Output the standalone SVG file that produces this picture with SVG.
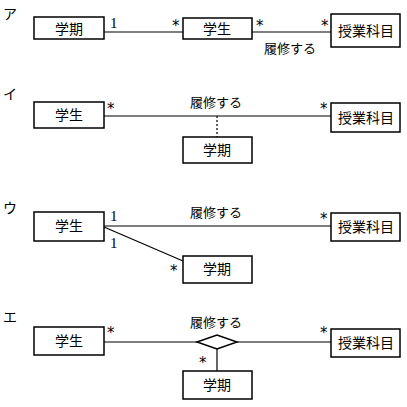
<svg xmlns="http://www.w3.org/2000/svg" width="407" height="407" viewBox="0 0 407 407">
<style>
.box{fill:#fff;stroke:#000;stroke-width:1.5}
.ln{stroke:#000;stroke-width:1.2;fill:none}
.dot{stroke:#000;stroke-width:1.2;stroke-dasharray:2,2;fill:none}
.t{font-family:"Noto Sans CJK JP","Noto Sans",sans-serif;font-size:14px;fill:#000;text-anchor:middle}
.lb{font-family:"Noto Sans CJK JP","Noto Sans",sans-serif;font-size:13px;fill:#000}
.m{font-family:"Liberation Serif",serif;font-size:15px;fill:#000}
.s{font-family:"DejaVu Sans",sans-serif;font-size:15px;fill:#000}
.k{font-family:"Noto Sans CJK JP",sans-serif;font-size:14px;fill:#000}
</style>
<rect width="407" height="407" fill="#fff"/>
<text class="k" x="3" y="19">ア</text>
<text class="k" x="3" y="99">イ</text>
<text class="k" x="3" y="213">ウ</text>
<text class="k" x="3" y="322">エ</text>

<g id="connectors">
  <line class="ln" x1="104" y1="32" x2="183" y2="32"/>
  <line class="ln" x1="252" y1="32" x2="331" y2="32"/>
  <line class="ln" x1="104" y1="116" x2="331" y2="116"/>
  <line class="dot" x1="217" y1="116" x2="217" y2="137"/>
  <line class="ln" x1="104" y1="226" x2="331" y2="226"/>
  <line class="ln" x1="104" y1="227" x2="183" y2="261"/>
  <line class="ln" x1="104" y1="342" x2="197" y2="342"/>
  <line class="ln" x1="237" y1="342" x2="331" y2="342"/>
  <line class="ln" x1="217" y1="349" x2="217" y2="371"/>
</g>

<g id="a-gakki"><rect class="box" x="34" y="17" width="70" height="22"/><text class="t" x="69" y="34">学期</text></g>
<g id="a-gakusei"><rect class="box" x="183" y="18" width="69" height="21"/><text class="t" x="217" y="34">学生</text></g>
<g id="a-jugyo"><rect class="box" x="331" y="14" width="69" height="33"/><text class="t" x="366" y="36">授業科目</text></g>
<text class="m" x="110" y="28">1</text>
<text class="s" x="172" y="31">*</text>
<text class="s" x="256" y="31">*</text>
<text class="s" x="321" y="31">*</text>
<text class="lb" x="264" y="53">履修する</text>

<g id="i-gakusei"><rect class="box" x="34" y="102" width="70" height="26"/><text class="t" x="69" y="120">学生</text></g>
<g id="i-jugyo"><rect class="box" x="331" y="103" width="69" height="29"/><text class="t" x="366" y="123">授業科目</text></g>
<g id="i-gakki"><rect class="box" x="183" y="137" width="69" height="26"/><text class="t" x="217" y="155">学期</text></g>
<text class="s" x="107" y="114">*</text>
<text class="s" x="320" y="114">*</text>
<text class="lb" x="190" y="107">履修する</text>

<g id="u-gakusei"><rect class="box" x="34" y="212" width="70" height="29"/><text class="t" x="69" y="231">学生</text></g>
<g id="u-jugyo"><rect class="box" x="331" y="213" width="69" height="28"/><text class="t" x="366" y="232">授業科目</text></g>
<g id="u-gakki"><rect class="box" x="183" y="256" width="69" height="27"/><text class="t" x="217" y="274">学期</text></g>
<text class="m" x="110" y="221">1</text>
<text class="m" x="110" y="248">1</text>
<text class="s" x="170" y="276">*</text>
<text class="s" x="320" y="224">*</text>
<text class="lb" x="190" y="217">履修する</text>

<g id="e-gakusei"><rect class="box" x="34" y="327" width="70" height="28"/><text class="t" x="69" y="346">学生</text></g>
<g id="e-jugyo"><rect class="box" x="331" y="329" width="69" height="28"/><text class="t" x="366" y="348">授業科目</text></g>
<g id="e-gakki"><rect class="box" x="183" y="371" width="69" height="28"/><text class="t" x="217" y="390">学期</text></g>
<g id="e-assoc"><polygon class="box" points="197,342 217,335 237,342 217,349"/></g>
<text class="s" x="107" y="338">*</text>
<text class="s" x="199" y="368">*</text>
<text class="s" x="320" y="338">*</text>
<text class="lb" x="190" y="327">履修する</text>
</svg>
